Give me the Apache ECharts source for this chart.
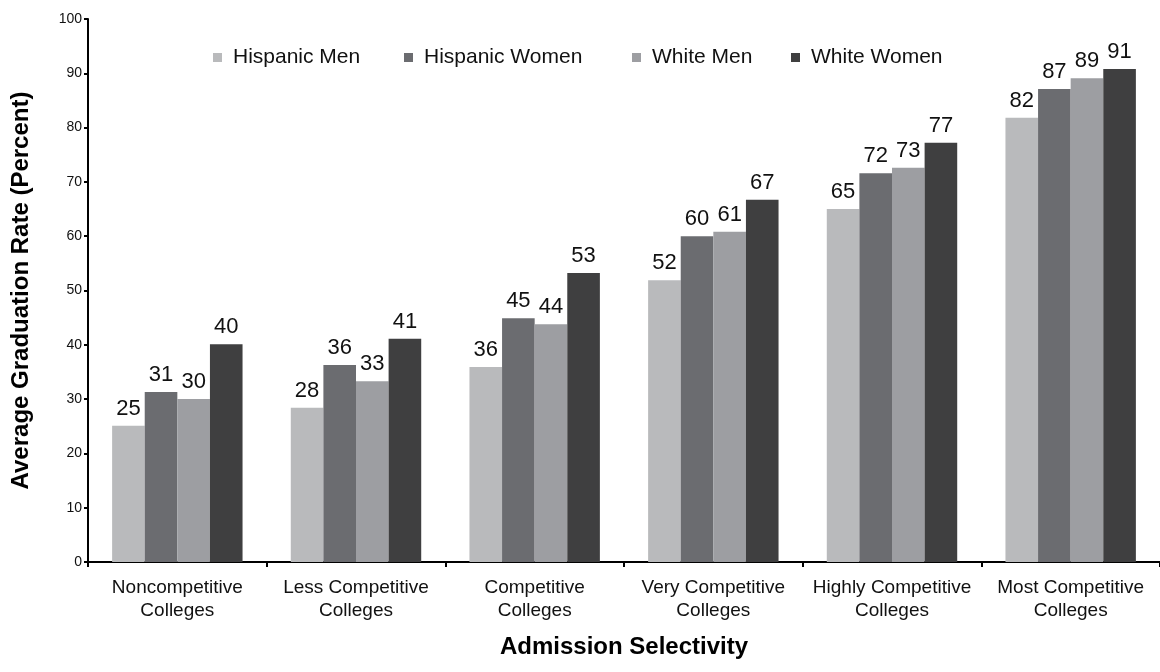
<!DOCTYPE html>
<html>
<head>
<meta charset="utf-8">
<title>Average Graduation Rate by Admission Selectivity</title>
<script src="https://cdn.jsdelivr.net/npm/echarts@6/dist/echarts.min.js"></script>
<style>
  html, body { margin: 0; padding: 0; background: #fff; }
  #chart { width: 1160px; height: 672px; }
</style>
</head>
<body>
<div id="chart"></div>
<script>
// values; labels show them rounded
var CATEGORIES = [
  'Noncompetitive\nColleges',
  'Less Competitive\nColleges',
  'Competitive\nColleges',
  'Very Competitive\nColleges',
  'Highly Competitive\nColleges',
  'Most Competitive\nColleges'
];
var SERIES_NAMES = ['Hispanic Men', 'Hispanic Women', 'White Men', 'White Women'];
var HISPANIC_MEN = [25.1, 28.4, 35.9, 51.9, 65.0, 81.8];
var HISPANIC_WOMEN = [31.3, 36.3, 44.9, 60.0, 71.6, 87.1];
var WHITE_MEN = [30.0, 33.3, 43.8, 60.8, 72.6, 89.1];
var WHITE_WOMEN = [40.1, 41.1, 53.2, 66.7, 77.2, 90.8];

(function () {
  'use strict';

  var FONT = '"Liberation Sans", Arial, Helvetica, sans-serif';
  var COLORS = ['#b9babc', '#6b6c70', '#9d9ea2', '#3f3f40'];
  var LEGEND_LEFT = [208, 399, 627, 786];

  function barSeries(name, values, color) {
    return {
      name: name,
      type: 'bar',
      data: values,
      barGap: '0%',
      barCategoryGap: '27%',
      itemStyle: { color: color },
      label: {
        show: true,
        position: 'top',
        distance: 6,
        fontFamily: FONT,
        fontSize: 22,
        color: '#111',
        formatter: function (p) { return Math.round(p.value); }
      },
      emphasis: { disabled: true }
    };
  }

  function legendFor(name, i) {
    return {
      data: [name],
      left: LEGEND_LEFT[i],
      top: 42,
      itemWidth: 9,
      itemHeight: 9,
      icon: 'rect',
      selectedMode: false,
      textStyle: { fontFamily: FONT, fontSize: 21, color: '#111', padding: [0, 0, 0, 6] }
    };
  }

  var chart = echarts.init(document.getElementById('chart'), null, { renderer: 'canvas' });
  var values = [HISPANIC_MEN, HISPANIC_WOMEN, WHITE_MEN, WHITE_WOMEN];

  chart.setOption({
    animation: false,
    backgroundColor: '#fff',
    legend: SERIES_NAMES.map(legendFor),
    grid: { left: 88, top: 19, width: 1080, height: 543, containLabel: false },
    xAxis: {
      type: 'category',
      data: CATEGORIES,
      axisLine: { lineStyle: { color: '#000', width: 2 } },
      axisTick: { show: true, length: 5, lineStyle: { color: '#000', width: 2 } },
      axisLabel: {
        interval: 0,
        margin: 14,
        fontFamily: FONT,
        fontSize: 19,
        lineHeight: 23,
        color: '#111'
      },
      name: 'Admission Selectivity',
      nameLocation: 'middle',
      nameGap: 73,
      nameTextStyle: { fontFamily: FONT, fontSize: 24, fontWeight: 'bold', color: '#000' }
    },
    yAxis: {
      type: 'value',
      min: 0,
      max: 100,
      interval: 10,
      splitLine: { show: false },
      axisLine: { show: true, lineStyle: { color: '#000', width: 2 } },
      axisTick: { show: true, length: 4, lineStyle: { color: '#000', width: 2 } },
      axisLabel: { fontFamily: FONT, fontSize: 14, color: '#111', margin: 6 },
      name: 'Average Graduation Rate (Percent)',
      nameLocation: 'middle',
      nameRotate: 90,
      nameGap: 55,
      nameTextStyle: { fontFamily: FONT, fontSize: 24, fontWeight: 'bold', color: '#000' }
    },
    series: SERIES_NAMES.map(function (name, i) {
      return barSeries(name, values[i], COLORS[i]);
    })
  });
})();
</script>
</body>
</html>
